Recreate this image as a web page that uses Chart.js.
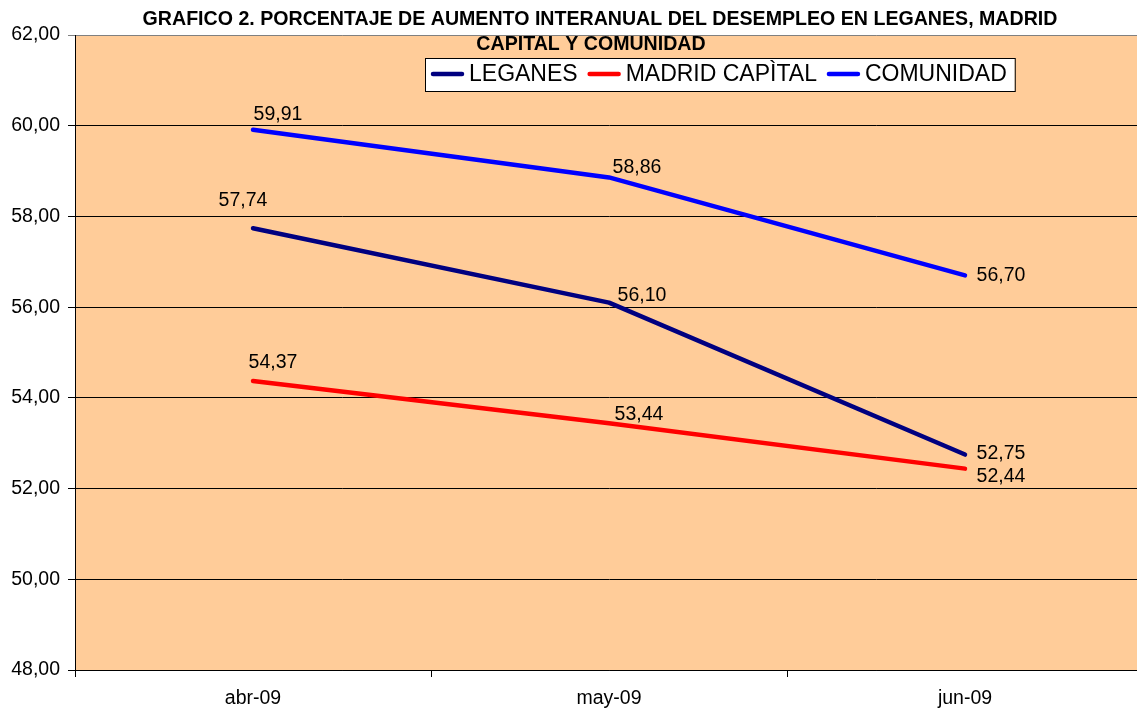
<!DOCTYPE html>
<html lang="es">
<head>
<meta charset="utf-8">
<title>Grafico 2</title>
<script src="https://cdn.jsdelivr.net/npm/chart.js@4.4.1/dist/chart.umd.min.js"></script>
<style>
  html, body { margin: 0; padding: 0; background: #fff; overflow: hidden; }
  #wrap { position: relative; width: 1143px; height: 711px; }
</style>
</head>
<body>
<div id="wrap"><canvas id="myChart"></canvas></div>
<script>
const meses = ['abr-09', 'may-09', 'jun-09'];
const leganes = [57.74, 56.10, 52.75];
const madridCapital = [54.37, 53.44, 52.44];
const comunidad = [59.91, 58.86, 56.70];
const seriesNames = ['LEGANES', 'MADRID CAPÌTAL', 'COMUNIDAD'];
const seriesColors = ['#000080', '#ff0000', '#0000ff'];
const titleLines = [
  'GRAFICO 2. PORCENTAJE DE AUMENTO INTERANUAL DEL DESEMPLEO EN LEGANES, MADRID',
  'CAPITAL Y COMUNIDAD',
];

const FONT = '"Liberation Sans", Arial, sans-serif';

function fmt(v) {
  return Number(v).toFixed(2).replace('.', ',');
}

// desplazamiento de cada etiqueta respecto a su punto (como quedó en Excel)
const labelShift = [
  [[-10, -28], [33, -7], [36, -1]],
  [[20, -18], [30, -9], [36, 8]],
  [[25, -15], [28, -10], [36, 0]],
];

// fondo del área de trazado
const plotBg = {
  id: 'plotBg',
  beforeDraw(chart) {
    const a = chart.chartArea;
    const ctx = chart.ctx;
    ctx.save();
    ctx.fillStyle = '#ffcc99';
    ctx.fillRect(a.left, a.top, a.right - a.left, a.bottom - a.top);
    ctx.restore();
  },
};

// etiquetas de datos
const dataLabels = {
  id: 'dataLabels',
  afterDatasetsDraw(chart) {
    const ctx = chart.ctx;
    ctx.save();
    ctx.font = '19.5px ' + FONT;
    ctx.fillStyle = '#000';
    ctx.textAlign = 'center';
    ctx.textBaseline = 'middle';
    chart.data.datasets.forEach((ds, i) => {
      chart.getDatasetMeta(i).data.forEach((pt, j) => {
        const s = labelShift[i][j];
        ctx.fillText(fmt(ds.data[j]), pt.x + s[0], pt.y + s[1]);
      });
    });
    ctx.restore();
  },
};

// título y leyenda encima del área de trazado
const titleAndLegend = {
  id: 'titleAndLegend',
  afterDraw(chart) {
    const ctx = chart.ctx;
    ctx.save();
    ctx.fillStyle = '#000';
    ctx.textAlign = 'center';
    ctx.textBaseline = 'middle';
    ctx.font = 'bold 19.6px ' + FONT;
    ctx.fillText(titleLines[0], 600, 19.5);
    ctx.fillText(titleLines[1], 591, 45);

    // leyenda
    ctx.font = '23px ' + FONT;
    const left = 425, top = 58, h = 33;
    let x = left + 6;
    const items = [];
    chart.data.datasets.forEach((ds) => {
      const w = ctx.measureText(ds.label).width;
      items.push({ x: x, label: ds.label, color: ds.borderColor });
      x += 33 + 5 + w + 10;
    });
    const right = x - 10 + 8;
    ctx.fillStyle = '#fff';
    ctx.fillRect(left, top, right - left, h);
    ctx.strokeStyle = '#000';
    ctx.lineWidth = 1;
    ctx.strokeRect(left + 0.5, top + 0.5, right - left, h);
    ctx.textAlign = 'left';
    items.forEach((it) => {
      ctx.strokeStyle = it.color;
      ctx.lineWidth = 4.5;
      ctx.lineCap = 'round';
      ctx.beginPath();
      ctx.moveTo(it.x + 2, top + 16);
      ctx.lineTo(it.x + 31, top + 16);
      ctx.stroke();
      ctx.fillStyle = '#000';
      ctx.fillText(it.label, it.x + 38, top + 17);
    });
    ctx.restore();
  },
};

const seriesData = [leganes, madridCapital, comunidad];

const config = {
  type: 'line',
  data: {
    labels: meses,
    datasets: seriesData.map((d, i) => ({
      label: seriesNames[i],
      data: d,
      borderColor: seriesColors[i],
      backgroundColor: seriesColors[i],
      borderWidth: 4.5,
      borderCapStyle: 'round',
      borderJoinStyle: 'round',
      pointRadius: 0,
      tension: 0,
      fill: false,
    })),
  },
  options: {
    responsive: true,
    maintainAspectRatio: false,
    animation: false,
    layout: { padding: { top: 35, left: 0, right: 0, bottom: 0 } },
    plugins: {
      legend: { display: false },
      title: { display: false },
      tooltip: { enabled: false },
    },
    scales: {
      x: {
        offset: true,
        grid: {
          offset: true,
          drawOnChartArea: false,
          drawTicks: true,
          tickLength: 7,
          color: '#000',
        },
        border: { color: '#000', width: 1 },
        ticks: {
          color: '#000',
          font: { family: FONT, size: 19.5 },
          padding: 10,
        },
        afterFit(scale) {
          scale.height = 41;
        },
      },
      y: {
        min: 48,
        max: 62,
        grid: {
          color: (c) => (c.tick && c.tick.value === 62 ? '#808080' : '#000'),
          tickLength: 7,
          lineWidth: 1,
        },
        border: { color: '#000', width: 1 },
        ticks: {
          stepSize: 2,
          color: '#000',
          font: { family: FONT, size: 19.5 },
          padding: 8,
          callback: (v) => fmt(v),
        },
        afterFit(scale) {
          scale.width = 75;
        },
      },
    },
  },
  plugins: [plotBg, dataLabels, titleAndLegend],
};

const myChart = new Chart(document.getElementById('myChart'), config);
</script>
</body>
</html>
